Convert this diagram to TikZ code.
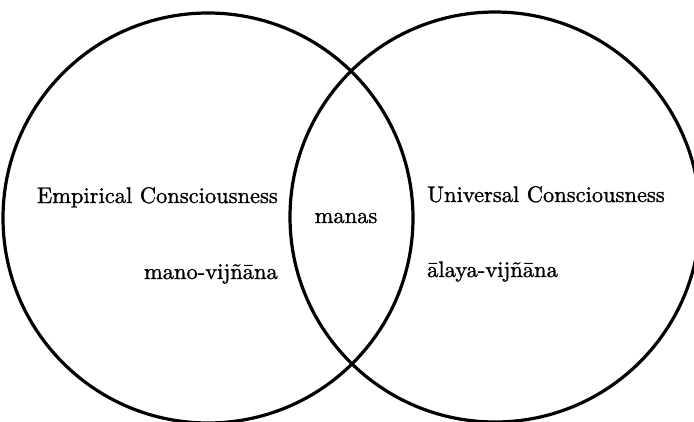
\documentclass[tikz,border=0pt]{standalone}
\usepackage{fontspec}
\usetikzlibrary{positioning}
\newfontfamily\termfont{lmroman10-regular.otf}[FakeBold=1.2]
\tikzset{
  ring/.style   ={draw, circle, line width=3.2pt, minimum size=410pt,
                  inner sep=0pt},
  term/.style   ={inner sep=0pt, font=\termfont\fontsize{22.5}{26}\selectfont},
}

\begin{document}
\begin{tikzpicture}[x=1pt, y=-1pt]

  % ============================================================
  % FRAME (reference proportions, circles run past the edge)
  % ============================================================
  \useasboundingbox (0,0) rectangle (694,421);
  \clip (0,0) rectangle (694,421);

  % ============================================================
  % THE TWO OVERLAPPING CIRCLES
  % ============================================================
  \node[ring] (empirical) at (208,218) {};
  \node[ring] (universal) at (495,217) {};

  % --- left circle ---
  \node[term, anchor=base east] (emplabel) at (278,203) {Empirical Consciousness};
  \node[term, anchor=base east] (mano)     at (278,279) {mano-vijñāna};

  % --- overlap ---
  \node[term, anchor=base] (manas) at (346,223) {manas};

  % --- right circle ---
  \node[term, anchor=base west] (unilabel) at (427,202) {Universal Consciousness};
  \node[term, anchor=base west] (alaya)    at (427,277) {ālaya-vijñāna};

\end{tikzpicture}
\end{document}
